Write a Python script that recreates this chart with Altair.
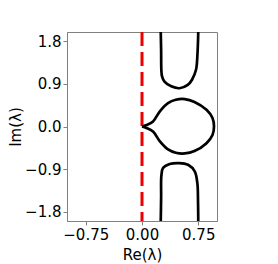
import altair as alt
import pandas as pd

# Upper open branch
top_x = [0.250, 0.255, 0.258, 0.267, 0.300, 0.390, 0.500, 0.610, 0.667, 0.720, 0.740, 0.750]
top_y = [2.00, 1.60, 1.20, 1.06, 0.95, 0.85, 0.81, 0.88, 0.99, 1.20, 1.55, 2.00]

# Central closed loop (starts and ends at the cusp at origin)
mid_x = [0.000, 0.060, 0.147, 0.236, 0.347, 0.450, 0.570, 0.700, 0.860, 0.940, 0.960,
         0.940, 0.860, 0.700, 0.570, 0.450, 0.347, 0.236, 0.147, 0.060, 0.000]
mid_y = [0.000, 0.030, 0.106, 0.317, 0.495, 0.565, 0.580, 0.520, 0.353, 0.180, 0.000,
         -0.180, -0.353, -0.520, -0.570, -0.555, -0.485, -0.310, -0.106, -0.030, 0.000]

# Lower open branch
bot_x = [0.250, 0.255, 0.258, 0.280, 0.369, 0.493, 0.614, 0.703, 0.738, 0.747, 0.750]
bot_y = [-2.00, -1.50, -1.05, -0.88, -0.795, -0.774, -0.81, -0.95, -1.20, -1.60, -2.00]

x_ticks = [-0.75, 0.0, 0.75]
y_ticks = [-1.8, -0.9, 0.0, 0.9, 1.8]

rows = []
for name, xs, ys in [("top", top_x, top_y), ("mid", mid_x, mid_y), ("bot", bot_x, bot_y)]:
    for i, (a, b) in enumerate(zip(xs, ys)):
        rows.append({"curve": name, "order": i, "re": a, "im": b})
df = pd.DataFrame(rows)

xscale = alt.Scale(domain=[-1.0, 1.0], nice=False, zero=False)
yscale = alt.Scale(domain=[-2.0, 2.0], nice=False, zero=False)

xaxis = alt.Axis(values=x_ticks, format=".2f", title="Re(λ)", grid=False)
yaxis = alt.Axis(values=y_ticks, format=".1f", title="Im(λ)", grid=False)

curves = alt.Chart(df).mark_line(color="black", strokeWidth=2.7, interpolate="catmull-rom", clip=True).encode(
    x=alt.X("re:Q", scale=xscale, axis=xaxis),
    y=alt.Y("im:Q", scale=yscale, axis=yaxis),
    detail="curve:N",
    order="order:Q",
)

vline = alt.Chart(pd.DataFrame({"re": [0.0]})).mark_rule(
    color="#ee0000", strokeWidth=3, strokeDash=[14, 6]
).encode(x=alt.X("re:Q", scale=xscale))

chart = (vline + curves).properties(
    width=150, height=189,
    autosize=alt.AutoSizeParams(type="none"),
    padding={"left": 59, "top": 24, "right": 53, "bottom": 48},
).configure_view(
    stroke="#808080", strokeWidth=1
).configure_axis(
    domainColor="#808080",
    tickColor="#808080",
    tickSize=4,
    labelFont="DejaVu Sans",
    labelFontSize=15,
    labelColor="black",
    titleFont="DejaVu Sans",
    titleFontSize=15,
    titleFontWeight="normal",
    titleColor="black",
    labelPadding=2,
).configure_axisX(titlePadding=5).configure_axisY(titlePadding=1)

chart.save("out.html", embed_options={"renderer": "svg", "actions": False})
